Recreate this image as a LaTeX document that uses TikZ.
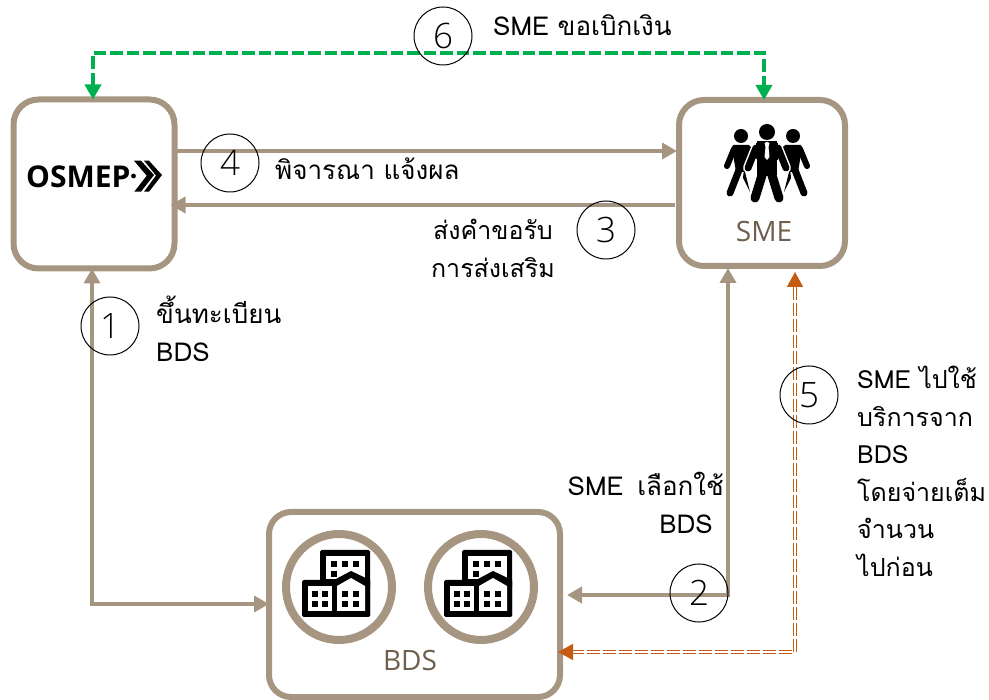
\documentclass[tikz,border=0pt]{standalone}
\usepackage{fontspec}
\usetikzlibrary{arrows.meta}
\setmainfont{Open Sans}
\newfontfamily\thaifont[Script=Thai]{Loma}
\newfontfamily\latinfont{Open Sans}
\newfontfamily\numfont{Open Sans Light}
\definecolor{tan1}{HTML}{A69580}
\definecolor{brown1}{HTML}{6F5F4F}
\definecolor{green1}{HTML}{00B050}
\definecolor{orange1}{HTML}{C55A11}
\tikzset{
  x=1pt,y=-1pt,
  panel/.style={draw=tan1,line width=6pt,rounded corners=25pt,fill=white,inner sep=0pt,outer sep=0pt},
  ring/.style={circle,draw=tan1,line width=8pt,fill=white,minimum size=106pt,inner sep=0pt},
  flow/.style={draw=tan1,line width=4pt,{Triangle[length=15pt,width=16pt]}-{Triangle[length=15pt,width=16pt]}},
  flowone/.style={draw=tan1,line width=4pt,-{Triangle[length=15pt,width=16pt]}},
  greenflow/.style={draw=green1,line width=4pt,dash pattern=on 12.5pt off 4pt,{Triangle[length=15pt,width=16pt]}-{Triangle[length=15pt,width=16pt]}},
  orangeflow/.style={draw=orange1,line width=1.5pt,double=white,double distance=1.5pt,dash pattern=on 13pt off 3pt,{Triangle[length=15pt,width=16pt]}-{Triangle[length=15pt,width=16pt]}},
  num/.style={circle,draw=black,line width=1pt,minimum size=58pt,inner sep=0pt,font=\fontsize{35}{35}\selectfont\numfont},
  thaitext/.style={inner sep=0pt,align=left,font=\fontsize{26}{37.5}\selectfont\thaifont},
  boxlabel/.style={inner sep=0pt,text=brown1,font=\fontsize{28}{28}\selectfont\latinfont},
  bldg/.pic={
    \fill[black,rounded corners=1.5pt] (-19,-37) rectangle (31,30);
    \fill[black,rounded corners=1.5pt] (-37,-7) rectangle (31,30);
    \fill[white] (-13,-31) rectangle (26,-8);
    \foreach \a/\b in {-5/-23,6/-23,17/-23,-5/-13}{\fill[black] (\a-3,\b-3) rectangle (\a+3,\b+3);}
    \fill[black] (-5,-7) -- (12,-16) -- (31,-7) -- (31,0) -- (-5,0) -- cycle;
    \fill[white] (-31,-1) rectangle (-7,24);
    \fill[white] (-2,-1) -- (12,-9) -- (26,-1) -- (26,24) -- (-2,24) -- cycle;
    \foreach \a/\b in {-24/7,-14/7,-24/17,-14/17,6/7,17/7,6/17,17/17}{\fill[black] (\a-3,\b-3) rectangle (\a+3,\b+3);}
  },
  sideman/.pic={
    \fill[black] (0,0) circle (7);
    \fill[black,rounded corners=1.5pt] (-9,9) -- (9,9) -- (11,14) -- (4,36) -- (-5,36) -- (-7,24) -- cycle;
    \draw[black,line width=6pt,line cap=round] (-7,13) -- (-14,30);
    \draw[black,line width=7pt,line cap=round] (-2,34) -- (-11,57);
    \fill[black] (3,32) -- (9,56) -- (2,42) -- cycle;
  }
}
\begin{document}
\begin{tikzpicture}
\useasboundingbox (0,0) rectangle (989,700);
\node[panel,minimum width=161pt,minimum height=169pt] (osmep) at (94,184) {};
\node[panel,minimum width=166pt,minimum height=166pt] (sme) at (762,183) {};
\node[panel,rounded corners=22pt,minimum width=291pt,minimum height=185pt] (bds) at (414.5,604.5) {};
\node[ring] (ringa) at (339,587) {};
\node[ring] (ringb) at (481,587) {};
\pic at (339,587) {bldg};
\pic at (481,587) {bldg};
% people
\pic at (741,136) {sideman};
\pic[xscale=-1] at (793,136) {sideman};
\fill[black] (767,132) circle (8);
\foreach \c/\w in {white/3,black/0}{
  \draw[\c,line width=7pt+\w pt,line cap=round] (756,148) -- (748,168);
  \draw[\c,line width=7pt+\w pt,line cap=round] (778,148) -- (786,168);
  \draw[\c,line width=9pt+\w pt,line cap=round] (763,172) -- (755,198);
  \draw[\c,line width=9pt+\w pt,line cap=round] (771,172) -- (779,198);
  \draw[\c,line width=\w pt,fill=black,rounded corners=1.5pt] (756,142) -- (778,142) -- (776,176) -- (758,176) -- cycle;
}
\fill[white] (767,142) -- (764.5,143) -- (765.5,147) -- (764.5,157) -- (767,160) -- (769.5,157) -- (768.5,147) -- (769.5,143) -- cycle;
% logo
\node[inner sep=0pt,anchor=base west,font=\fontsize{30}{30}\selectfont\latinfont\bfseries] (logo) at (26,188) {OSMEP};
\fill[black] (133.5,176) circle (2.4);
\fill[black] (134,160.7) -- (141,160.7) -- (154,175) -- (141,191.7) -- (134.3,191.7) -- (146.7,175.7) -- cycle;
\fill[black] (144,160.7) -- (149,160.7) -- (162,175) -- (149,191.7) -- (144,191.7) -- (156,175.5) -- cycle;
% labels
\node[boxlabel] (smelab) at (764,232) {SME};
\node[boxlabel] (bdslab) at (410,660) {BDS};
% anchors of the routes
\coordinate (gl) at (93,53);
\coordinate (gr) at (764,53);
\coordinate (yf) at (0,151);
\coordinate (yb) at (0,205);
\coordinate (xo) at (92,0);
\coordinate (yo) at (0,604);
\coordinate (xs) at (728,0);
\coordinate (ys) at (0,595);
\coordinate (xe) at (795,0);
\coordinate (ye) at (0,652);
% connectors
\draw[greenflow] (osmep.north -| gl) -- (gl) -- (gr) -- (sme.north -| gr);
\draw[flowone,shorten >=2pt] (osmep.east |- yf) -- (sme.west |- yf);
\draw[flowone,shorten <=4pt,shorten >=-4pt] (sme.west |- yb) -- (osmep.east |- yb);
\draw[flow] (osmep.south -| xo) -- (xo |- yo) -- (bds.west |- yo);
\draw[flow,shorten <=2pt,shorten >=7pt] (sme.south -| xs) -- (xs |- ys) -- (bds.east |- ys);
\draw[orangeflow,shorten <=6pt,shorten >=-2pt] (sme.south -| xe) -- (xe |- ye) -- (bds.east |- ye);
% numbers
\node[num] (n1) at (110,326) {1};
\node[num] (n2) at (699,593) {2};
\node[num] (n3) at (606,230) {3};
\node[num] (n4) at (230,163) {4};
\node[num] (n5) at (809,395) {5};
\node[num] (n6) at (443,36) {6};
% texts
\node[thaitext,anchor=west] (t6) at (493,25) {SME ขอเบิกเงิน};
\node[thaitext,anchor=west] (t4) at (275,169) {พิจารณา แจ้งผล};
\node[thaitext,anchor=north,align=center,font=\fontsize{25}{37.5}\selectfont\thaifont] (t3) at (493,219) {ส่งคำขอรับ\\การส่งเสริม};
\node[thaitext,anchor=north west] (t1) at (156,296) {ขึ้นทะเบียน\\BDS};
\node[thaitext,anchor=north east,align=right] (t2) at (724,472) {SME\hspace{5pt} เลือกใช้\\BDS\kern 11pt\null};
\node[thaitext,anchor=north west,font=\fontsize{25}{37.5}\selectfont\thaifont] (t5) at (857,366) {SME ไปใช้\\บริการจาก\\BDS\\โดยจ่ายเต็ม\\จำนวน\\ไปก่อน};
\end{tikzpicture}
\end{document}
